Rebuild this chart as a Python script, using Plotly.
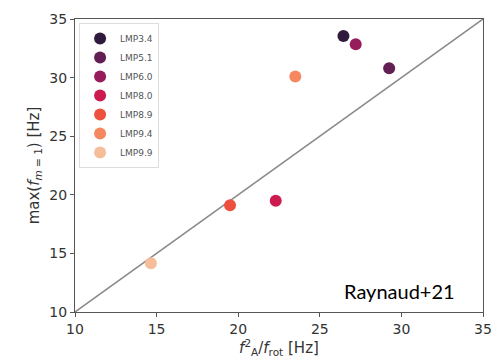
import plotly.graph_objects as go

labels = ["LMP3.4", "LMP5.1", "LMP6.0", "LMP8.0", "LMP8.9", "LMP9.4", "LMP9.9"]
x_vals = [26.45, 29.25, 27.2, 22.3, 19.5, 23.5, 14.65]
y_vals = [33.55, 30.8, 32.85, 19.5, 19.1, 30.1, 14.15]
colors = ["#2f1a3d", "#611f53", "#961c5b", "#cb1b4f", "#ed503e", "#f58860", "#f6bd9b"]
diag = [10, 35]
ticks = [10, 15, 20, 25, 30, 35]

fig = go.Figure()
fig.add_trace(go.Scatter(x=diag, y=diag, mode="lines",
                         line=dict(color="#8a8a8a", width=1.5),
                         showlegend=False, hoverinfo="skip"))
for lab, xv, yv, c in zip(labels, x_vals, y_vals, colors):
    fig.add_trace(go.Scatter(x=[xv], y=[yv], mode="markers", name=lab,
                             marker=dict(color=c, size=12, line=dict(width=0))))

axis_common = dict(range=[10, 35], tickvals=ticks, ticks="outside", ticklen=4,
                   tickcolor="#555", showgrid=False, zeroline=False,
                   showline=True, linecolor="#555", linewidth=1.2, mirror=True,
                   tickfont=dict(family="DejaVu Sans", size=14, color="#333"))

fig.update_layout(
    width=501, height=363,
    margin=dict(l=75, r=9, t=19, b=51),
    paper_bgcolor="white", plot_bgcolor="white",
    xaxis=dict(title=dict(text="<i>f</i><sup>2</sup><sub>A</sub>/<i>f</i><sub>rot</sub> [Hz]",
                          font=dict(family="DejaVu Sans", size=15, color="#333"), standoff=2),
               **axis_common),
    yaxis=dict(title=dict(text="max(<i>f</i><sub><i>m</i> = 1</sub>) [Hz]",
                          font=dict(family="DejaVu Sans", size=15, color="#333"), standoff=6),
               **axis_common),
    legend=dict(x=0.01, y=0.986, xanchor="left", yanchor="top",
                bgcolor="white", bordercolor="#dddddd", borderwidth=1,
                font=dict(family="DejaVu Sans", size=9, color="#555"),
                tracegroupgap=0),
    annotations=[dict(x=33.4, y=11.8, xref="x", yref="y", text="Raynaud+21",
                      showarrow=False, xanchor="right", yanchor="middle",
                      font=dict(family="Lato", size=20, color="black"))],
)

fig.write_html("out.html")
